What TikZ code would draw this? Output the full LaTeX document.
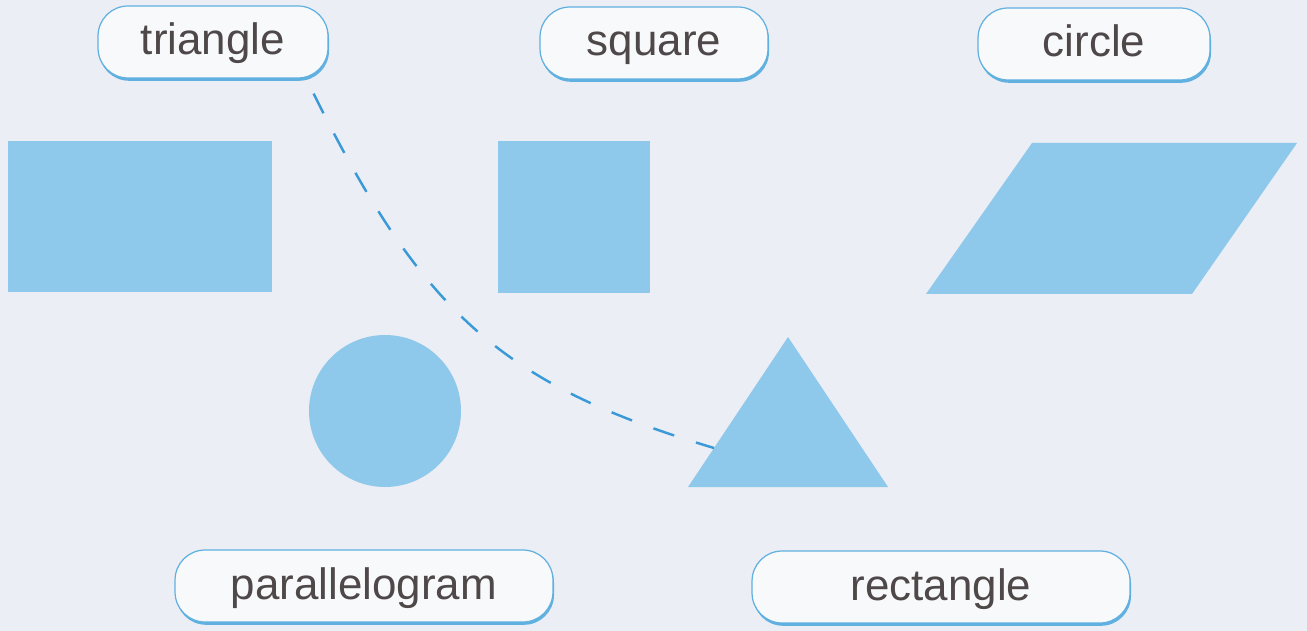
\documentclass[tikz,border=0pt]{standalone}
\usepackage{fontspec}
\setmainfont{Liberation Sans}
\usetikzlibrary{positioning, calc, shadows}

\definecolor{shapeblue}{RGB}{142,201,236}
\definecolor{rimblue}{RGB}{96,176,224}
\definecolor{dashblue}{RGB}{58,154,216}
\definecolor{labelgray}{RGB}{78,72,73}
\definecolor{paper}{RGB}{236,238,245}

\begin{document}
\begin{tikzpicture}[
    x=0.02cm, y=-0.02cm,
    font=\fontsize{25}{30}\selectfont,
    word/.style={draw=rimblue, line width=0.7pt, fill=paper!35!white,
                 rounded corners=0.6cm, minimum height=1.44cm, inner sep=0pt,
                 text height=18pt, text depth=3.2pt, text=labelgray,
                 drop shadow={shadow xshift=0.6pt, shadow yshift=-1.6pt,
                              fill=rimblue, opacity=1}},
    patch/.style={fill=shapeblue},
    link/.style={draw=dashblue, line width=1.4pt, dash pattern=on 12.5pt off 13pt},
  ]

\fill[paper] (0,0) rectangle (1307,631);
\useasboundingbox (0,0) rectangle (1307,631);

% labels
\node[word, minimum width=4.6cm]  (lbltri)  at (213,42)  {triangle};
\node[word, minimum width=4.56cm] (lblsq)   at (654,43)  {square};
\node[word, minimum width=4.64cm] (lblcirc) at (1094,44) {circle};
\node[word, minimum width=7.56cm] (lblpar)  at (364,586) {parallelogram};
\node[word, minimum width=7.56cm] (lblrect) at (941,587) {rectangle};

% shapes
\fill[patch] (8,141) rectangle (272,292);
\fill[patch] (498,141) rectangle (650,293);
\fill[patch] (1032,143) -- (1297,143) -- (1192,294) -- (926,294) -- cycle;
\fill[patch] (385,411) circle (76);
\fill[patch] (788,337) coordinate (apex) -- (888,487) coordinate (baser)
    -- (688,487) coordinate (basel) -- cycle;

% match line
\coordinate (tail) at ($(lbltri.south east)+(-15,15)$);
\coordinate (tip) at ($(apex)!0.74!(basel)$);
\draw[link] (tail) .. controls (423,314) and (503,385) .. (tip);
\end{tikzpicture}
\end{document}
